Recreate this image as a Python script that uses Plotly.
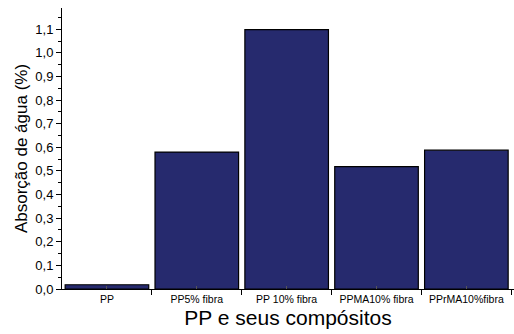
import plotly.graph_objects as go

categories = ["PP", "PP5% fibra", "PP 10% fibra", "PPMA10% fibra", "PPrMA10%fibra"]
values = [0.018, 0.58, 1.098, 0.518, 0.588]
y_ticks = [0.0, 0.1, 0.2, 0.3, 0.4, 0.5, 0.6, 0.7, 0.8, 0.9, 1.0, 1.1]

fig = go.Figure()
fig.add_trace(go.Bar(
    x=list(range(len(categories))), y=values,
    width=0.93,
    marker=dict(color="#262a6e", line=dict(color="black", width=1.2)),
))

fig.update_layout(
    width=514, height=334,
    margin=dict(l=62, r=0, t=8, b=45, autoexpand=False),
    plot_bgcolor="white", paper_bgcolor="white",
    separators=", ",
    showlegend=False,
    font=dict(family="Liberation Sans, Arial, sans-serif", color="black"),
    xaxis=dict(
        range=[-0.5, 4.53],
        automargin=False,
        tickmode="array", tickvals=list(range(len(categories))), ticktext=categories,
        tickfont=dict(size=10.5),
        showline=True, linecolor="black", linewidth=1,
        ticks="inside", ticklen=3, tickcolor="#555", showgrid=False, zeroline=False,
        title=dict(text="PP e seus compósitos", font=dict(size=21), standoff=6),
        minor=dict(tickvals=[0.5, 1.5, 2.5, 3.5, 4.5], ticks="outside", ticklen=5, tickcolor="black", tickwidth=1),
    ),
    yaxis=dict(
        range=[0, 1.19],
        automargin=False,
        tickmode="array", tickvals=y_ticks, tickformat=".1f",
        tickfont=dict(size=13),
        showline=True, linecolor="black", linewidth=1,
        ticks="outside", ticklen=5, tickcolor="black",
        showgrid=False, zeroline=False,
        title=dict(text="Absorção de água (%)", font=dict(size=17), standoff=3),
        minor=dict(dtick=0.05, tick0=0.05, ticks="outside", ticklen=3, tickcolor="black"),
    ),
)

fig.write_html("out.html", config={"displayModeBar": False},
               post_script="document.body.style.margin='0';document.body.style.overflow='hidden';")
